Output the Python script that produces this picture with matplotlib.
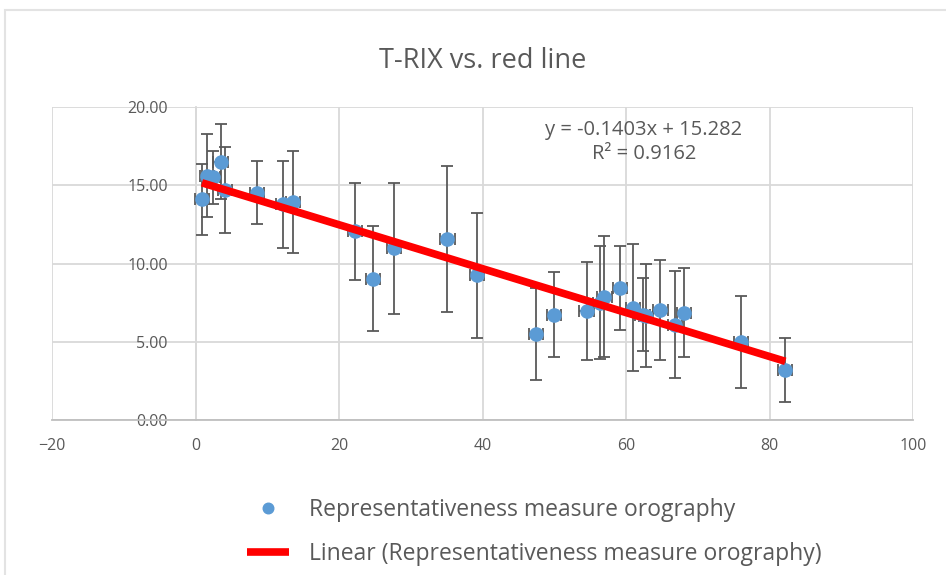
import numpy as np
import matplotlib.pyplot as plt
from matplotlib.patches import Rectangle

plt.rcParams['font.family'] = ['Open Sans', 'DejaVu Sans']

# Data
x = [0.9, 1.6, 2.4, 3.5, 4.1, 8.6, 12.2, 13.6, 22.2, 24.7, 27.7, 35.1, 39.2,
     47.5, 50.0, 54.5, 56.4, 57.0, 59.2, 61.0, 62.3, 62.8, 64.8, 66.8, 68.1,
     76.0, 82.2]
y = [14.1, 15.6, 15.5, 16.5, 14.72, 14.53, 13.78, 13.95, 12.07, 9.03, 10.98,
     11.55, 9.25, 5.5, 6.73, 6.97, 7.5, 7.87, 8.43, 7.18, 6.73, 6.66, 7.03,
     6.1, 6.85, 4.98, 3.22]
y_err = [2.25, 2.65, 1.7, 2.4, 2.75, 2.03, 2.78, 3.25, 3.1, 3.37, 4.18, 4.65,
         4.0, 2.94, 2.73, 3.12, 3.6, 3.87, 2.67, 4.08, 2.35, 3.28, 3.18, 3.4,
         2.85, 2.92, 2.05]
x_err = 1.0

slope = -0.1403
intercept = 15.282
r_squared = 0.9162

x_ticks = [-20, 0, 20, 40, 60, 80, 100]
y_ticks = [0, 5, 10, 15, 20]

text_gray = '#595959'
grid_gray = '#d9d9d9'

fig = plt.figure(figsize=(9.46, 5.75), dpi=100)
ax = fig.add_axes([52 / 946, 1 - 420 / 575, (913 - 52) / 946, (420 - 107) / 575])

# outer chart border (only top and left visible in the reference)
fig.patches.append(Rectangle((5 / 946, -0.1), 1.2, 1 - 10 / 575 + 0.1,
                             transform=fig.transFigure, fill=False,
                             edgecolor='#e3e3e3', linewidth=1.5))

eb = ax.errorbar(x, y, yerr=y_err, xerr=x_err, fmt='o', color='#5b9bd5',
                 markersize=9.5, ecolor='#595959', elinewidth=1.3, capsize=4,
                 capthick=1.3, zorder=3)

# linear trendline
xs = np.array([min(x), max(x)])
trend, = ax.plot(xs, slope * xs + intercept, color='#ff0000', linewidth=5.5,
                 solid_capstyle='butt', zorder=4)

ax.text(62.5, 17.76, f'y = {slope}x + {intercept}\nR² = {r_squared}',
        ha='center', va='center', fontsize=14.5, color=text_gray,
        linespacing=1.3)

ax.set_xlim(-20, 100)
ax.set_ylim(0, 20)
ax.set_xticks(x_ticks)
ax.set_yticks(y_ticks)
ax.set_yticklabels([f'{v:.2f}' for v in y_ticks])
ax.grid(True, color=grid_gray, linewidth=1.3)
ax.set_axisbelow(True)

ax.spines['left'].set_position(('data', 0))
for side in ['top', 'right']:
    ax.spines[side].set_visible(False)
ax.spines['left'].set_color(grid_gray)
ax.spines['bottom'].set_color('#bfbfbf')
ax.spines['left'].set_linewidth(1.3)
ax.spines['bottom'].set_linewidth(1.3)
ax.tick_params(axis='both', length=0, labelsize=11.5, labelcolor=text_gray)
ax.tick_params(axis='y', pad=20)
ax.tick_params(axis='x', pad=13)

ax.set_title('T-RIX vs. red line', fontsize=19.5, color=text_gray, pad=28)

fig.legend([eb[0], trend],
           ['Representativeness measure orography',
            'Linear (Representativeness measure orography)'],
           loc='upper left', bbox_to_anchor=(226 / 946, 1 - 477 / 575),
           frameon=False, fontsize=16.5, labelcolor=text_gray,
           handlelength=1.87, handletextpad=0.87, labelspacing=0.87,
           markerscale=0.8)

fig.savefig('out.png', dpi=100)
